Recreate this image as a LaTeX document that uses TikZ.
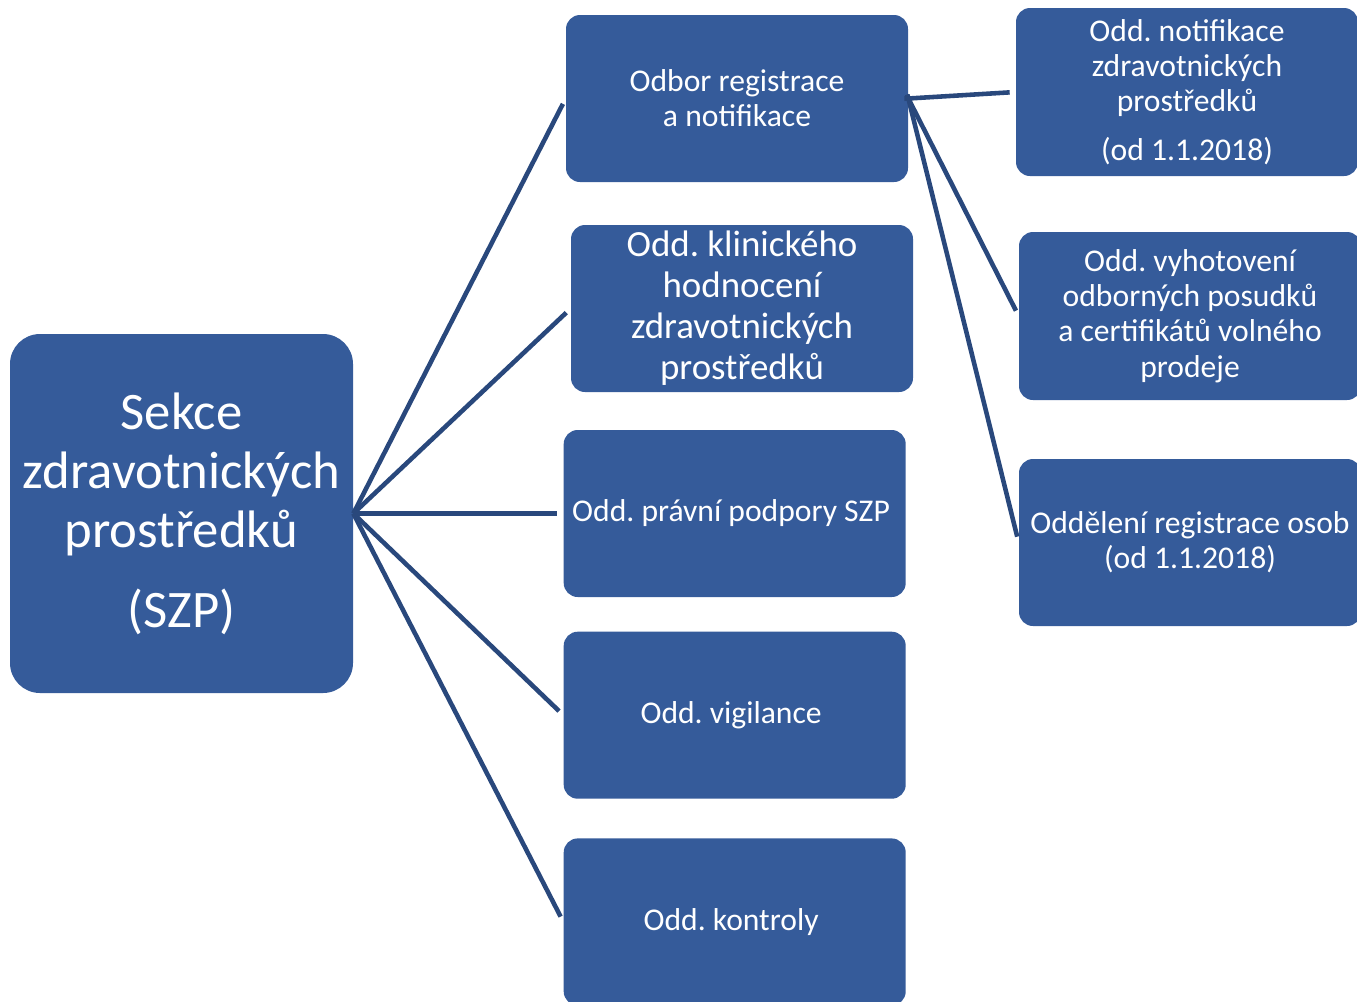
\documentclass[tikz,border=0pt]{standalone}
\usepackage{fontspec}
\setmainfont{Carlito}
\frenchspacing
\usetikzlibrary{
  positioning
}

\definecolor{boxblue}{RGB}{53,91,154}
\definecolor{lineblue}{RGB}{41,72,124}

\begin{document}
\begin{tikzpicture}[
    node distance=0.68cm and 4.2cm,
    every node/.style={font=\fontsize{18}{20}\selectfont, text=white},
    box/.style={
        rectangle,
        rounded corners=0.28cm,
        fill=boxblue,
        align=center,
        minimum width=6.84cm,
        minimum height=3.34cm,
        inner sep=2pt
    },
    mainbox/.style={
        box,
        rounded corners=0.6cm,
        minimum width=6.86cm,
        minimum height=7.18cm,
        font=\fontsize{30}{33.5}\selectfont
    },
    bigbox/.style={
        box,
        font=\fontsize{21}{23.3}\selectfont
    },
    link/.style={
        draw=lineblue,
        line width=2.6pt,
        shorten >=0.12cm
    }
]
\useasboundingbox (0,0) rectangle (27.14,-20.02);

% Section
\node[mainbox] (szp) at (3.63,-10.27) {%
Sekce\\
zdravotnických\\
prostředků\\[12pt]
(SZP)
};

% Departments
\node[box] (odbor) at (14.74,-1.97) {%
Odbor registrace\\
a notifikace
};

\node[bigbox] (klin) at (14.84,-6.17) {%
Odd. klinického\\
hodnocení\\
zdravotnických\\
prostředků
};

\node[box, right=of szp] (pravni) {%
Odd. právní podpory SZP
};

\node[box, below=of pravni] (vigil) {%
Odd. vigilance
};

\node[box, below=0.78cm of vigil] (kontr) {%
Odd. kontroly
};

% Sub-departments
\node[box, minimum height=3.36cm] (notif) at (23.74,-1.84) {%
Odd. notifikace\\
zdravotnických\\
prostředků\\[8pt]
(od 1.1.2018)
};

\node[box, minimum height=3.36cm] (posud) at (23.80,-6.32) {%
Odd. vyhotovení\\
odborných posudků\\
a certifikátů volného\\
prodeje
};

\node[box] (osob) at (23.80,-10.85) {%
Oddělení registrace osob\\
(od 1.1.2018)
};

% Lines
\draw[link] (szp.east) -- (odbor.west);
\draw[link] (szp.east) -- (klin.west);
\draw[link] (szp.east) -- (pravni.west);
\draw[link] (szp.east) -- (vigil.west);
\draw[link] (szp.east) -- (kontr.west);
\draw[link, shorten <=-0.08cm] (odbor.east) -- (notif.west);
\draw[link, shorten <=-0.08cm] (odbor.east) -- (posud.west);
\draw[link, shorten <=-0.08cm] (odbor.east) -- (osob.west);

\end{tikzpicture}
\end{document}
